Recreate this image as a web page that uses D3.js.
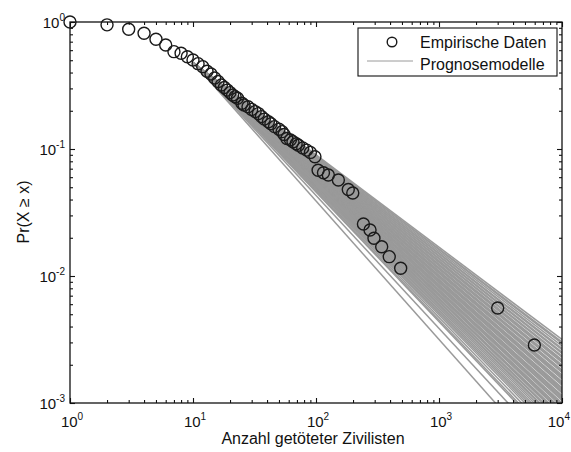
<!DOCTYPE html>
<html><head><meta charset="utf-8">
<script src="https://cdn.jsdelivr.net/npm/d3@7"></script>
<style>body{margin:0;background:#fff}svg{display:block}</style>
</head><body>
<svg id="c" width="571" height="452"></svg>
<script>
// Empirical CCDF points (x = killed civilians, p = Pr(X >= x))
const empX = [1,2,3,4,5,6,7,8,9,10,11,12,13,14,15,16,17,18,19,20,21,22,23,25,26,28,30,32,34,36,38,41,43,46,50,53,55,58,62,65,69,72,78,84,90,98,104,115,126,152,183,199,243,275,296,342,394,488,3000,5960];
const empP = [1,0.95,0.876,0.815,0.731,0.659,0.584,0.567,0.533,0.502,0.47,0.445,0.41,0.39,0.362,0.34,0.319,0.305,0.291,0.278,0.266,0.258,0.251,0.229,0.222,0.215,0.205,0.197,0.19,0.18,0.172,0.164,0.158,0.15,0.143,0.137,0.13,0.121,0.118,0.114,0.11,0.107,0.102,0.098,0.094,0.087,0.068,0.065,0.0624,0.057,0.048,0.045,0.0257,0.023,0.0198,0.017,0.0142,0.0115,0.0056,0.00286];

// Forecast models: power-law lines from a common start to their value at x = 10^4
const modelStartX = 10;
const modelStartP = 0.48;
const modelEndX = 10000;
const modelTailP = [0.003162,0.003020,0.002951,0.002818,0.002692,0.002630,0.002512,0.002455,0.002344,0.002291,0.002188,0.002138,0.002089,0.001995,0.001950,0.001905,0.001820,0.001778,0.001738,0.001660,0.001622,0.001585,0.001549,0.001479,0.001445,0.001413,0.001380,0.001318,0.001288,0.001259,0.001230,0.001202,0.001148,0.001122,0.001096,0.001072,0.001047,0.001000,0.000977,0.000955,0.000933,0.000891,0.000871,0.000851,0.000832,0.000794,0.000776,0.000759,0.000724,0.000708,0.000676,0.000661,0.000631,0.000603,0.000575,0.000550,0.000525,0.000501,0.000468,0.000437,0.000417,0.000347,0.000257];

const xTickExps = [0,1,2,3,4];
const yTickExps = [0,-1,-2,-3];
const legendLabels = ["Empirische Daten","Prognosemodelle"];
const xTitle = "Anzahl getöteter Zivilisten";
const yTitle = "Pr(X \u2265 x)";

const L=70, R=562, T=22, B=403;
const font = "'Liberation Sans', Arial, Helvetica, sans-serif";
const svg = d3.select("#c");
const x = d3.scaleLog().domain([1,1e4]).range([L,R]);
const y = d3.scaleLog().domain([1e-3,1]).range([B,T]);

svg.append("defs").append("clipPath").attr("id","clip")
  .append("rect").attr("x",L).attr("y",T).attr("width",R-L).attr("height",B-T);

// model lines
const line = d3.line().x(d=>x(d[0])).y(d=>y(d[1]));
svg.append("g").attr("clip-path","url(#clip)")
  .selectAll("path").data(modelTailP).join("path")
  .attr("d", t => line([[modelStartX, modelStartP],[modelEndX, t]]))
  .attr("fill","none").attr("stroke","#9a9a9a").attr("stroke-width",1.5);

// axes ticks
const xMajor = xTickExps.map(e=>Math.pow(10,e));
const yMajor = yTickExps.map(e=>Math.pow(10,e));
const xMinor = x.ticks().filter(v=>!xMajor.some(m=>Math.abs(m-v)<1e-9));
const yMinor = y.ticks().filter(v=>!yMajor.some(m=>Math.abs(m-v)/m<1e-6));

function ax(gen, tr, vals, size){
  const g = svg.append("g").attr("transform",tr)
    .call(gen.tickValues(vals).tickSize(-size).tickSizeOuter(0).tickFormat(""));
  g.select(".domain").remove();
  g.selectAll("line").attr("stroke","#111").attr("stroke-width",1.1);
}
[[xMajor,5],[xMinor,3]].forEach(([v,s])=>{
  ax(d3.axisBottom(x), `translate(0,${B})`, v, s);
  ax(d3.axisTop(x), `translate(0,${T})`, v, s);
});
[[yMajor,5],[yMinor,3]].forEach(([v,s])=>{
  ax(d3.axisLeft(y), `translate(${L},0)`, v, s);
  ax(d3.axisRight(y), `translate(${R},0)`, v, s);
});

svg.append("rect").attr("x",L).attr("y",T).attr("width",R-L).attr("height",B-T)
  .attr("fill","none").attr("stroke","#111").attr("stroke-width",1.3);

// tick labels
const xl = svg.append("g").attr("font-family",font).attr("fill","#111");
xTickExps.forEach((e,i)=>{
  const last = i===xTickExps.length-1;
  const t = xl.append("text")
    .attr("x", last ? 570 : x(Math.pow(10,e))+2).attr("y",B+24)
    .attr("text-anchor", last ? "end" : "middle").attr("font-size",15);
  t.append("tspan").text("10");
  t.append("tspan").attr("dy",-7).attr("font-size",10).text(e);
});
yTickExps.forEach(e=>{
  const t = xl.append("text").attr("x",L-5).attr("y",y(Math.pow(10,e))+5.5).attr("text-anchor","end").attr("font-size",15);
  t.append("tspan").text("10");
  t.append("tspan").attr("dy",-7).attr("font-size",10).text(e<0?"-"+(-e):e);
});

// titles
svg.append("text").attr("x",313).attr("y",444).attr("text-anchor","middle")
  .attr("font-family",font).attr("font-size",16).attr("fill","#111").text(xTitle);
svg.append("text").attr("transform","translate(29,212) rotate(-90)").attr("text-anchor","middle")
  .attr("font-family",font).attr("font-size",16).attr("fill","#111").text(yTitle);

// empirical circles
svg.append("g").selectAll("circle").data(empX.map((v,i)=>[v,empP[i]])).join("circle")
  .attr("cx",d=>x(d[0])).attr("cy",d=>y(d[1])).attr("r",6)
  .attr("fill","none").attr("stroke","#1a1a1a").attr("stroke-width",1.4);

// legend
const lg = svg.append("g");
lg.append("rect").attr("x",358).attr("y",28).attr("width",199).attr("height",48)
  .attr("fill","#fff").attr("stroke","#111").attr("stroke-width",1.1);
lg.append("circle").attr("cx",392).attr("cy",42).attr("r",4.8)
  .attr("fill","none").attr("stroke","#1a1a1a").attr("stroke-width",1.4);
lg.append("line").attr("x1",367).attr("x2",413).attr("y1",61).attr("y2",61)
  .attr("stroke","#9a9a9a").attr("stroke-width",1);
lg.selectAll("text").data(legendLabels).join("text")
  .attr("x",420).attr("y",(d,i)=>48+i*22)
  .attr("font-family",font).attr("font-size",16).attr("fill","#111").text(d=>d);
</script>
</body></html>
